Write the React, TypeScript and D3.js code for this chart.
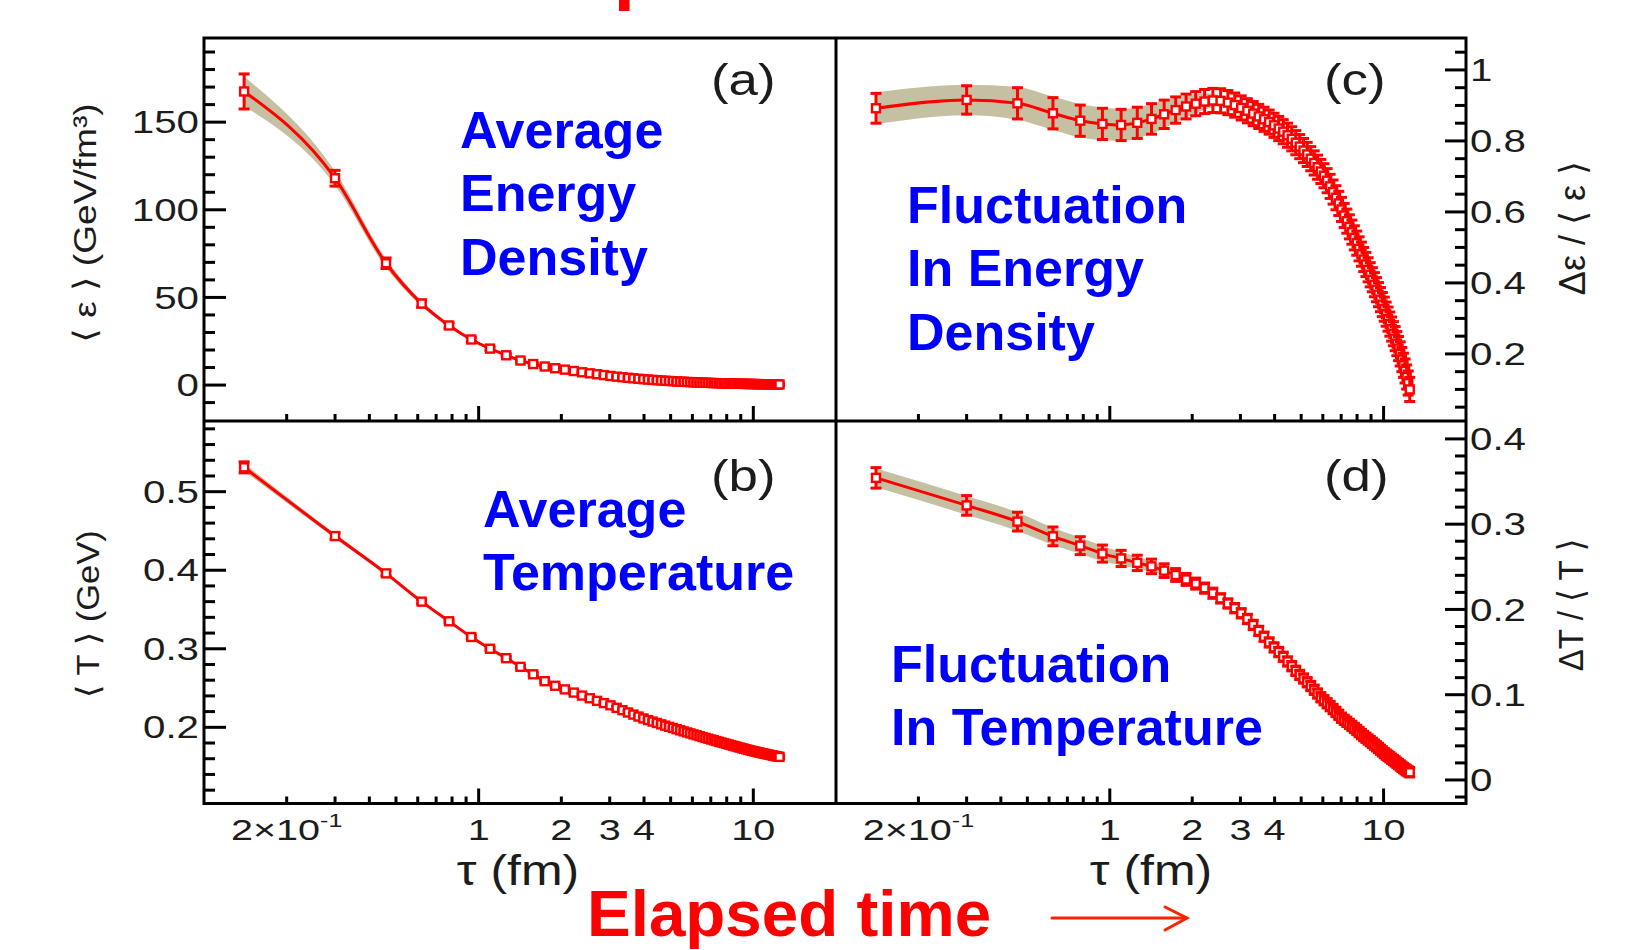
import React from "react";
import * as d3 from "d3";

// ---------- data ----------
const tau = [
  0.14, 0.3, 0.46, 0.62, 0.78, 0.94, 1.1, 1.26, 1.42, 1.58,
  1.74, 1.9, 2.06, 2.22, 2.38, 2.54, 2.7, 2.86, 3.02, 3.18,
  3.34, 3.5, 3.66, 3.82, 3.98, 4.14, 4.3, 4.46, 4.62, 4.78,
  4.94, 5.1, 5.26, 5.42, 5.58, 5.74, 5.9, 6.06, 6.22, 6.38,
  6.54, 6.7, 6.86, 7.02, 7.18, 7.34, 7.5, 7.66, 7.82, 7.98,
  8.14, 8.3, 8.46, 8.62, 8.78, 8.94, 9.1, 9.26, 9.42, 9.58,
  9.74, 9.9, 10.06, 10.22, 10.38, 10.54, 10.7, 10.86, 11.02, 11.18,
  11.34, 11.5, 11.66, 11.82, 11.98, 12.14, 12.3, 12.46,
];

// (a) average energy density <eps> (GeV/fm^3)
const avgEnergy = [
  167.5, 118, 69.5, 46.5, 34.0, 26.0, 20.8, 17.0, 14.0, 12.0,
  10.6, 9.6, 8.8, 8.0, 7.3, 6.7, 6.2, 5.7, 5.2, 4.8,
  4.45, 4.15, 3.85, 3.6, 3.35, 3.15, 2.95, 2.78, 2.62, 2.47,
  2.33, 2.2, 2.08, 1.97, 1.87, 1.77, 1.68, 1.6, 1.52, 1.45,
  1.38, 1.32, 1.26, 1.2, 1.15, 1.1, 1.05, 1.0, 0.96, 0.92,
  0.88, 0.85, 0.82, 0.79, 0.76, 0.73, 0.7, 0.68, 0.66, 0.64,
  0.62, 0.6, 0.58, 0.56, 0.54, 0.52, 0.5, 0.49, 0.47, 0.46,
  0.44, 0.43, 0.42, 0.41, 0.4, 0.38, 0.37, 0.36,
];
const avgEnergyErr = [10, 4.5, 3, 2, 1.5, 1.2, 1, 0.9, 0.8, 0.7, 0.6];
const avgEnergyBand = [8.5, 4, 2.5, 1.5, 1, 0.8, 0.6, 0.5, 0.4, 0.3, 0];

// (b) average temperature <T> (GeV)
const avgTemp = [
  0.531, 0.4435, 0.396, 0.36, 0.335, 0.315, 0.3, 0.288, 0.277, 0.2675,
  0.2587, 0.2529, 0.2483, 0.2442, 0.2404, 0.237, 0.2337, 0.2308, 0.228, 0.2248,
  0.2218, 0.2189, 0.2162, 0.2137, 0.2113, 0.2092, 0.2073, 0.2055, 0.2038, 0.2021,
  0.2006, 0.1991, 0.1976, 0.1962, 0.1948, 0.1935, 0.1923, 0.191, 0.1899, 0.1887,
  0.1876, 0.1865, 0.1855, 0.1845, 0.1835, 0.1825, 0.1816, 0.1807, 0.1798, 0.1789,
  0.1781, 0.1773, 0.1765, 0.1757, 0.1749, 0.1742, 0.1734, 0.1727, 0.172, 0.1713,
  0.1706, 0.17, 0.1694, 0.1689, 0.1683, 0.1678, 0.1673, 0.1668, 0.1663, 0.1658,
  0.1653, 0.1649, 0.1644, 0.164, 0.1635, 0.1631, 0.1627, 0.1623,
];
const avgTempErr = [0.007, 0.004, 0.003, 0.0025, 0.002];
const avgTempBand = [0.005, 0.003, 0.0025, 0.002, 0.0015, 0.001, 0];

// (c) fluctuation in energy density  d_eps / <eps>
const flucEnergy = [
  0.892, 0.9155, 0.906, 0.878, 0.857, 0.848, 0.845, 0.851, 0.862, 0.875,
  0.887, 0.897, 0.905, 0.911, 0.914, 0.913, 0.908, 0.901, 0.893, 0.885,
  0.877, 0.869, 0.861, 0.853, 0.844, 0.835, 0.826, 0.816, 0.806, 0.795,
  0.784, 0.773, 0.762, 0.75, 0.738, 0.726, 0.714, 0.702, 0.688, 0.672,
  0.656, 0.64, 0.624, 0.607, 0.59, 0.574, 0.558, 0.543, 0.527, 0.512,
  0.496, 0.481, 0.466, 0.452, 0.437, 0.423, 0.409, 0.395, 0.381, 0.367,
  0.353, 0.339, 0.326, 0.312, 0.298, 0.284, 0.27, 0.257, 0.243, 0.229,
  0.215, 0.2, 0.184, 0.168, 0.152, 0.135, 0.118, 0.1,
];
const flucEnergyErr = [
  0.042, 0.04, 0.044, 0.044, 0.044, 0.044, 0.044, 0.044, 0.043, 0.04,
  0.037, 0.035, 0.034, 0.034, 0.034, 0.034, 0.034,
];
const flucEnergyBand = [
  0.045, 0.043, 0.046, 0.047, 0.047, 0.046, 0.045, 0.044, 0.042, 0.039,
  0.035, 0.031, 0.027, 0.023, 0.019, 0.015, 0.011, 0.007, 0.004, 0,
];

// (d) fluctuation in temperature  dT / <T>
const flucTemp = [
  0.3543, 0.322, 0.303, 0.2857, 0.2748, 0.2655, 0.2598, 0.2546, 0.2505, 0.2455,
  0.2404, 0.2352, 0.2303, 0.225, 0.219, 0.213, 0.207, 0.2015, 0.1955, 0.1888,
  0.1818, 0.1748, 0.168, 0.1613, 0.1555, 0.15, 0.1445, 0.139, 0.1335, 0.128,
  0.1232, 0.119, 0.1146, 0.1102, 0.1058, 0.1014, 0.097, 0.0935, 0.09, 0.0866,
  0.0832, 0.0798, 0.0764, 0.073, 0.0706, 0.0682, 0.0658, 0.0634, 0.061, 0.0586,
  0.0562, 0.0538, 0.0515, 0.0495, 0.0475, 0.0455, 0.0435, 0.0415, 0.0395, 0.0375,
  0.0355, 0.0335, 0.0315, 0.0298, 0.0282, 0.0266, 0.025, 0.0234, 0.0218, 0.0202,
  0.0186, 0.017, 0.0155, 0.014, 0.0126, 0.0113, 0.0101, 0.009,
];
const flucTempErr = [
  0.012, 0.0115, 0.011, 0.011, 0.0105, 0.01, 0.0095, 0.009, 0.0085, 0.008,
  0.0075, 0.007, 0.0065, 0.006, 0.006, 0.0055,
];
const flucTempBand = [
  0.011, 0.011, 0.011, 0.01, 0.0095, 0.009, 0.008, 0.007, 0.006, 0.005,
  0.004, 0.003, 0.002, 0,
];

// ticks
const xMajorTicks = [1, 10];
const xMinorTicks = [0.2, 0.3, 0.4, 0.5, 0.6, 0.7, 0.8, 0.9, 2, 3, 4, 5, 6, 7, 8, 9];
const xTickLabels = [
  { v: 0.2, t: "2×10", sup: "-1" },
  { v: 1, t: "1" },
  { v: 2, t: "2" },
  { v: 3, t: "3" },
  { v: 4, t: "4" },
  { v: 10, t: "10" },
];
const aMajor = [0, 50, 100, 150];
const aMinor = [-10, 10, 20, 30, 40, 60, 70, 80, 90, 110, 120, 130, 140, 160, 170, 180, 190];
const aLabels = ["0", "50", "100", "150"];
const bMajor = [0.2, 0.3, 0.4, 0.5];
const bMinor = [0.12, 0.14, 0.16, 0.18, 0.22, 0.24, 0.26, 0.28, 0.32, 0.34, 0.36, 0.38, 0.42, 0.44, 0.46, 0.48, 0.52, 0.54, 0.56, 0.58];
const bLabels = ["0.2", "0.3", "0.4", "0.5"];
const cMajor = [0.2, 0.4, 0.6, 0.8, 1];
const cMinor = [0.05, 0.1, 0.15, 0.25, 0.3, 0.35, 0.45, 0.5, 0.55, 0.65, 0.7, 0.75, 0.85, 0.9, 0.95, 1.05];
const cLabels = ["0.2", "0.4", "0.6", "0.8", "1"];
const dMajor = [0, 0.1, 0.2, 0.3, 0.4];
const dMinor = [-0.02, 0.02, 0.04, 0.06, 0.08, 0.12, 0.14, 0.16, 0.18, 0.22, 0.24, 0.26, 0.28, 0.32, 0.34, 0.36, 0.38];
const dLabels = ["0", "0.1", "0.2", "0.3", "0.4"];

const notesA = ["Average", "Energy", "Density"];
const notesB = ["Average", "Temperature"];
const notesC = ["Fluctuation", "In Energy", "Density"];
const notesD = ["Fluctuation", "In Temperature"];

// ---------- layout ----------
const W = 1629;
const H = 950;
const L = 204;
const M = 836;
const R = 1466;
const T = 38;
const MID = 421;
const B = 803.5;
const FONT = "'Liberation Sans', Arial, Helvetica, 'DejaVu Sans', sans-serif";
const RED = "#ff0000";
const BAND = "#c6c0a3";
const BLUE = "#0000ff";
const INK = "#1c1c1c";

const xLeft = d3.scaleLog().domain([0.1, 20]).range([L, M]);
const xRight = d3.scaleLog().domain([0.1, 20]).range([M, R]);
const yA = d3.scaleLinear().domain([-20.5, 198]).range([MID, T]);
const yB = d3.scaleLinear().domain([0.103, 0.59]).range([B, MID]);
const yC = d3.scaleLinear().domain([0.011, 1.09]).range([MID, T]);
const yD = d3.scaleLinear().domain([-0.0276, 0.421]).range([B, MID]);

const pick = (arr: number[], i: number) => (i < arr.length ? arr[i] : arr[arr.length - 1]);

function SText(props: any) {
  const { x, y, sx = 1, rotate = 0, size, anchor = "start", fill = INK, weight = "normal", dy, children } = props;
  return (
    <text
      transform={`translate(${x},${y})${rotate ? ` rotate(${rotate})` : ""} scale(${sx},1)`}
      fontSize={size}
      textAnchor={anchor}
      fill={fill}
      fontWeight={weight}
      fontFamily={FONT}
      dy={dy}
    >
      {children}
    </text>
  );
}

function Series(props: any) {
  const { x, y, vals, err, band } = props;
  const pts = tau.map((t: number, i: number) => ({
    px: x(t),
    v: vals[i],
    e: pick(err, i),
    b: pick(band, i),
  }));
  const area = d3
    .area<any>()
    .x((d) => d.px)
    .y0((d) => y(d.v - d.b))
    .y1((d) => y(d.v + d.b))
    .curve(d3.curveMonotoneX);
  const line = d3
    .line<any>()
    .x((d) => d.px)
    .y((d) => y(d.v))
    .curve(d3.curveMonotoneX);
  const cap = 5.5;
  const ms = 8;
  return (
    <g>
      <path d={area(pts) || ""} fill={BAND} stroke="none" />
      <path d={line(pts) || ""} fill="none" stroke={RED} strokeWidth={3} />
      {pts.map((d: any, i: number) => {
        const y1 = y(d.v + d.e);
        const y0 = y(d.v - d.e);
        return (
          <g key={"p" + i}>
            <g stroke={RED} strokeWidth={3}>
              <line x1={d.px} x2={d.px} y1={y1} y2={y0} />
              <line x1={d.px - cap} x2={d.px + cap} y1={y1} y2={y1} />
              <line x1={d.px - cap} x2={d.px + cap} y1={y0} y2={y0} />
            </g>
            <rect
              x={d.px - ms / 2}
              y={y(d.v) - ms / 2}
              width={ms}
              height={ms}
              fill="#ffffff"
              stroke={RED}
              strokeWidth={2.4}
            />
          </g>
        );
      })}
    </g>
  );
}

function XTicks(props: any) {
  const { x, yBase } = props;
  return (
    <g stroke="#000" strokeWidth={3}>
      {xMajorTicks.map((v) => (
        <line key={"M" + v} x1={x(v)} x2={x(v)} y1={yBase} y2={yBase - 15} />
      ))}
      {xMinorTicks.map((v) => (
        <line key={"m" + v} x1={x(v)} x2={x(v)} y1={yBase} y2={yBase - 7} />
      ))}
    </g>
  );
}

function XLabels(props: any) {
  const { x, center } = props;
  return (
    <g>
      {xTickLabels.map((d) => (
        <SText key={d.t} x={x(d.v)} y={840} sx={1.32} size={30} anchor="middle">
          {d.t}
          {d.sup ? (
            <tspan dy={-13} fontSize={19}>
              {d.sup}
            </tspan>
          ) : null}
        </SText>
      ))}
      <SText x={center} y={885} sx={1.19} size={42} anchor="middle">
        τ (fm)
      </SText>
    </g>
  );
}

function YAxis(props: any) {
  const { y, side, major, minor, labels } = props;
  const x0 = side === "left" ? L : R;
  const dir = side === "left" ? 1 : -1;
  const majLen = side === "left" ? 22 : 21;
  const minLen = 11;
  return (
    <g>
      <g stroke="#000" strokeWidth={3}>
        {major.map((v: number) => (
          <line key={"M" + v} x1={x0} x2={x0 + dir * majLen} y1={y(v)} y2={y(v)} />
        ))}
        {minor.map((v: number) => (
          <line key={"m" + v} x1={x0} x2={x0 + dir * minLen} y1={y(v)} y2={y(v)} />
        ))}
      </g>
      {major.map((v: number, i: number) =>
        side === "left" ? (
          <SText key={"l" + v} x={L - 5} y={y(v)} sx={1.3} size={31} anchor="end" dy="0.36em">
            {labels[i]}
          </SText>
        ) : (
          <SText key={"l" + v} x={R + 4} y={y(v)} sx={1.3} size={31} anchor="start" dy="0.36em">
            {labels[i]}
          </SText>
        )
      )}
    </g>
  );
}

function Notes(props: any) {
  const { x, y0, lines } = props;
  return (
    <g>
      {lines.map((t: string, i: number) => (
        <text
          key={t + i}
          x={x}
          y={y0 + i * 63.3}
          fontSize={52}
          fontWeight="bold"
          fill={BLUE}
          fontFamily={FONT}
        >
          {t}
        </text>
      ))}
    </g>
  );
}

export default function App() {
  return (
    <svg
      width={W}
      height={H}
      viewBox={`0 0 ${W} ${H}`}
      style={{ position: "absolute", left: 0, top: 0, background: "#ffffff" }}
    >
      <rect x={0} y={0} width={W} height={H} fill="#ffffff" />
      {/* red fragment at top */}
      <rect x={619} y={0} width={10.5} height={11} fill={RED} />

      {/* data */}
      <Series x={xLeft} y={yA} vals={avgEnergy} err={avgEnergyErr} band={avgEnergyBand} />
      <Series x={xLeft} y={yB} vals={avgTemp} err={avgTempErr} band={avgTempBand} />
      <Series x={xRight} y={yC} vals={flucEnergy} err={flucEnergyErr} band={flucEnergyBand} />
      <Series x={xRight} y={yD} vals={flucTemp} err={flucTempErr} band={flucTempBand} />

      {/* axes ticks */}
      <XTicks x={xLeft} yBase={MID} />
      <XTicks x={xLeft} yBase={B} />
      <XTicks x={xRight} yBase={MID} />
      <XTicks x={xRight} yBase={B} />
      <YAxis y={yA} side="left" major={aMajor} minor={aMinor} labels={aLabels} />
      <YAxis y={yB} side="left" major={bMajor} minor={bMinor} labels={bLabels} />
      <YAxis y={yC} side="right" major={cMajor} minor={cMinor} labels={cLabels} />
      <YAxis y={yD} side="right" major={dMajor} minor={dMinor} labels={dLabels} />

      {/* frame */}
      <g stroke="#000" strokeWidth={3} fill="none">
        <rect x={L} y={T} width={R - L} height={B - T} />
        <line x1={M} x2={M} y1={T} y2={B} />
        <line x1={L} x2={R} y1={MID} y2={MID} />
      </g>

      <XLabels x={xLeft} center={518} />
      <XLabels x={xRight} center={1151} />

      {/* axis titles */}
      <SText x={96} y={223} rotate={-90} sx={1.16} size={32} anchor="middle">
        {"⟨ ε ⟩ (GeV/fm³)"}
      </SText>
      <SText x={99} y={614} rotate={-90} sx={1.08} size={32} anchor="middle">
        {"⟨ T ⟩ (GeV)"}
      </SText>
      <SText x={1585} y={228} rotate={-90} sx={1.0} size={36} anchor="middle">
        {"Δε / ⟨ ε ⟩"}
      </SText>
      <SText x={1583} y={605} rotate={-90} sx={0.92} size={36} anchor="middle">
        {"ΔT / ⟨ T ⟩"}
      </SText>

      {/* panel letters */}
      <SText x={711} y={95} sx={1.2} size={44}>(a)</SText>
      <SText x={711} y={491} sx={1.2} size={44}>(b)</SText>
      <SText x={1324} y={95} sx={1.2} size={44}>(c)</SText>
      <SText x={1324} y={491} sx={1.2} size={44}>(d)</SText>

      {/* annotations */}
      <Notes x={460} y0={148} lines={notesA} />
      <Notes x={483} y0={527} lines={notesB} />
      <Notes x={907} y0={223} lines={notesC} />
      <Notes x={891} y0={682} lines={notesD} />

      <text x={587} y={936} fontSize={65.5} fontWeight="bold" fill={RED} fontFamily={FONT}>
        Elapsed time
      </text>
      <g stroke="#ff2200" strokeWidth={3} fill="none" strokeLinecap="round">
        <line x1={1052} x2={1186} y1={918} y2={918} />
        <polyline points="1165,907 1187,918 1165,930" />
      </g>
    </svg>
  );
}
